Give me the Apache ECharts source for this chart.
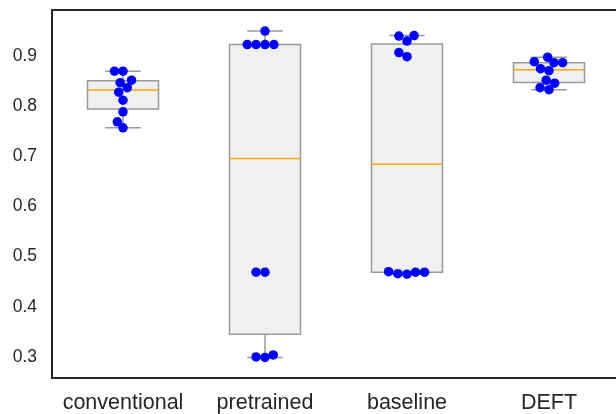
<!DOCTYPE html>
<html>
<head>
<meta charset="utf-8">
<script src="https://cdn.jsdelivr.net/npm/echarts@6/dist/echarts.min.js"></script>
<style>
html,body{margin:0;padding:0;background:#fff;}
#c{width:616px;height:414px;}
</style>
</head>
<body>
<div id="c"></div>
<script>
var categories = ['conventional', 'pretrained', 'baseline', 'DEFT'];

var conventionalVals = [0.870, 0.870, 0.852, 0.847, 0.837, 0.828, 0.812, 0.789, 0.769, 0.757];
var conventionalOffs = [-0.06, 0.00, 0.06, -0.02, 0.03, -0.03, 0.00, 0.00, -0.04, 0.00];

var pretrainedVals = [0.950, 0.923, 0.923, 0.923, 0.923, 0.469, 0.469, 0.300, 0.299, 0.304];
var pretrainedOffs = [0.00, -0.125, -0.063, 0.00, 0.063, -0.063, 0.00, -0.063, 0.00, 0.058];

var baselineVals = [0.940, 0.941, 0.930, 0.907, 0.899, 0.470, 0.466, 0.465, 0.469, 0.469];
var baselineOffs = [-0.057, 0.05, 0.00, -0.057, 0.00, -0.13, -0.065, 0.00, 0.06, 0.124];

var deftVals = [0.898, 0.889, 0.887, 0.887, 0.875, 0.871, 0.852, 0.846, 0.837, 0.833];
var deftOffs = [-0.01, -0.104, 0.035, 0.096, -0.06, 0.00, -0.02, 0.04, -0.063, 0.00];

var yTicks = [0.3, 0.4, 0.5, 0.6, 0.7, 0.8, 0.9];

var groups = [
  [conventionalVals, conventionalOffs],
  [pretrainedVals, pretrainedOffs],
  [baselineVals, baselineOffs],
  [deftVals, deftOffs]
];

function quantile(sorted, p) {
  var idx = p * (sorted.length - 1);
  var lo = Math.floor(idx), hi = Math.ceil(idx);
  return sorted[lo] + (sorted[hi] - sorted[lo]) * (idx - lo);
}
function stats(vals) {
  var s = vals.slice().sort(function (a, b) { return a - b; });
  var q1 = quantile(s, 0.25), med = quantile(s, 0.5), q3 = quantile(s, 0.75);
  var iqr = q3 - q1;
  var lowB = q1 - 1.5 * iqr, highB = q3 + 1.5 * iqr;
  var wl = s.filter(function (v) { return v >= lowB; })[0];
  var inside = s.filter(function (v) { return v <= highB; });
  var wh = inside[inside.length - 1];
  return [wl, q1, med, q3, wh];
}

var boxData = groups.map(function (g, i) { return [i].concat(stats(g[0])); });
var pointData = [];
groups.forEach(function (g, i) {
  g[0].forEach(function (v, j) { pointData.push([i + g[1][j], v]); });
});

var chart = echarts.init(document.getElementById('c'), null, { renderer: 'canvas' });
var textColor = '#262626';
var font = 'Liberation Sans, Arial, sans-serif';

chart.setOption({
  animation: false,
  backgroundColor: '#ffffff',
  grid: { left: 52, top: 10, width: 568, height: 368, outerBoundsMode: 'none', show: true, borderColor: '#262626', borderWidth: 2, containLabel: false },
  xAxis: [
    {
      type: 'category', data: categories, boundaryGap: true,
      axisLine: { show: false }, axisTick: { show: false }, splitLine: { show: false },
      axisLabel: { color: textColor, fontSize: 21.5, fontFamily: font, margin: 14, interval: 0 }
    },
    {
      type: 'value', min: -0.5, max: 3.5, show: false
    }
  ],
  yAxis: {
    type: 'value', min: 0.258, max: 0.992,
    axisLine: { show: false }, axisTick: { show: false }, splitLine: { show: false },
    axisLabel: {
      color: textColor, fontSize: 17.5, fontFamily: font, margin: 15,
      customValues: yTicks,
      formatter: function (v) { return Number(v).toFixed(1); }
    }
  },
  series: [
    {
      type: 'custom', xAxisIndex: 1, data: boxData, z: 2,
      renderItem: function (params, api) {
        var x = api.value(0);
        var wl = api.coord([x, api.value(1)]);
        var q1 = api.coord([x, api.value(2)]);
        var med = api.coord([x, api.value(3)]);
        var q3 = api.coord([x, api.value(4)]);
        var wh = api.coord([x, api.value(5)]);
        var left = api.coord([x - 0.25, 0])[0];
        var right = api.coord([x + 0.25, 0])[0];
        var cl = api.coord([x - 0.125, 0])[0];
        var cr = api.coord([x + 0.125, 0])[0];
        var cx = wl[0];
        var gray = '#999999';
        return {
          type: 'group',
          children: [
            { type: 'line', shape: { x1: cx, y1: q3[1], x2: cx, y2: wh[1] }, style: { stroke: gray, lineWidth: 1.5 } },
            { type: 'line', shape: { x1: cx, y1: q1[1], x2: cx, y2: wl[1] }, style: { stroke: gray, lineWidth: 1.5 } },
            { type: 'line', shape: { x1: cl, y1: wh[1], x2: cr, y2: wh[1] }, style: { stroke: gray, lineWidth: 1.5 } },
            { type: 'line', shape: { x1: cl, y1: wl[1], x2: cr, y2: wl[1] }, style: { stroke: gray, lineWidth: 1.5 } },
            { type: 'rect', shape: { x: left, y: q3[1], width: right - left, height: q1[1] - q3[1] }, style: { fill: '#f0f0f0', stroke: gray, lineWidth: 1.5 } },
            { type: 'line', shape: { x1: left, y1: med[1], x2: right, y2: med[1] }, style: { stroke: '#ffa500', lineWidth: 1.5 } }
          ]
        };
      }
    },
    {
      type: 'scatter', xAxisIndex: 1, data: pointData, z: 5,
      symbol: 'circle', symbolSize: 9.5,
      itemStyle: { color: '#0000ff', opacity: 1 }
    }
  ]
});
</script>
</body>
</html>
